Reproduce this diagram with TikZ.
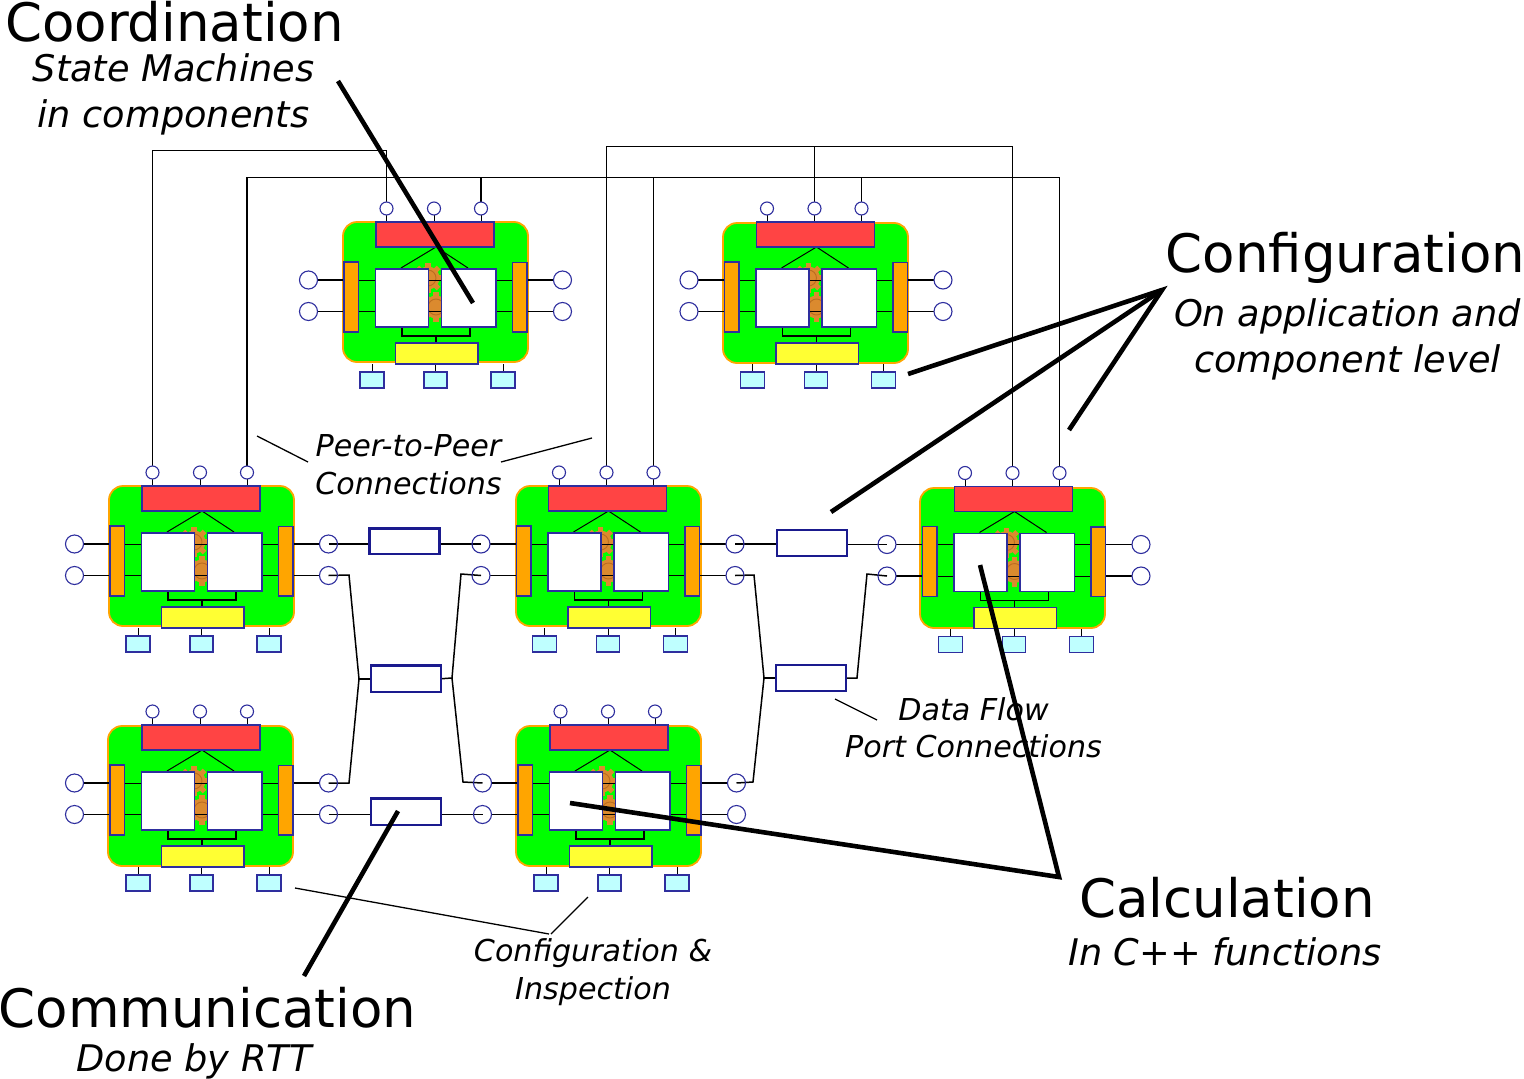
\documentclass[tikz,border=0pt]{standalone}
\usepackage{fontspec}
\setmainfont{DejaVu Sans}
\usetikzlibrary{calc}
\pgfdeclarelayer{back}\pgfdeclarelayer{mid}\pgfdeclarelayer{front}
\pgfsetlayers{back,mid,main,front}
\definecolor{navy}{HTML}{2E2E9E}
\definecolor{flown}{HTML}{1A1A8E}
\definecolor{orng}{HTML}{FFA500}
\definecolor{redb}{HTML}{FF4444}
\definecolor{yelb}{HTML}{FFFF33}
\definecolor{cyab}{HTML}{BFFFFF}
\definecolor{gearc}{HTML}{DB8A2E}
\definecolor{geard}{HTML}{BC6C20}
\tikzset{
  x=1pt,y=-1pt,
  pin/.style={draw=navy,line width=1.1pt,inner sep=0,outer sep=0,rectangle,fill=#1},
  pin/.default=white,
  portc/.style={draw=navy,line width=1.1pt,circle,inner sep=0,outer sep=0,minimum size=18pt},
  topc/.style={draw=navy,line width=1.1pt,circle,inner sep=0,outer sep=0,minimum size=13pt},
  flowbox/.style={draw=flown,line width=2.2pt,fill=white,rectangle,inner sep=0,outer sep=0},
  wire/.style={draw=black,line width=1.5pt},
  heavy/.style={draw=black,line width=4.6pt},
  thin/.style={draw=black,line width=1.3pt},
  title/.style={font=\fontsize{53}{60}\selectfont,anchor=base,inner sep=0},
  sub/.style={font=\fontsize{36.7}{44}\selectfont\itshape,anchor=base,inner sep=0},
  small/.style={font=\fontsize{30.15}{36}\selectfont\itshape,anchor=base,inner sep=0},
}
% box node from corners: name, style, x1,y1,x2,y2
\newcommand{\bx}[6]{%
  \pgfmathsetmacro{\bxw}{#5-#3}\pgfmathsetmacro{\bxh}{#6-#4}%
  \node[#2,minimum width=\bxw pt,minimum height=\bxh pt] (#1) at ({(#3+#5)/2},{(#4+#6)/2}) {};}
% gear
\newcommand{\cog}[2]{%
  \foreach \a in {0,45,...,315}{\fill[gearc,rotate around={\a:(#1,#2)}] ({#1-2.6},{#2-15}) rectangle ({#1+2.6},{#2-9});}
  \fill[gearc] (#1,#2) circle[radius=11.5];
  \draw[geard,line width=0.9pt] (#1,#2) circle[radius=8];}
% component: name, red x, red y, green x, green y
\newcommand{\comp}[5]{%
  \begin{pgfonlayer}{back}
    \fill[green,draw=orng,line width=1.8pt,rounded corners=14pt] (#4,#5) rectangle ({#4+185},{#5+140});
    \begin{scope}[shift={(#2,#3)}]\cog{52}{56}\cog{60}{85}\end{scope}
  \end{pgfonlayer}
  \begin{scope}[shift={(#2,#3)}]
    \bx{#1red}{pin=redb}{0}{0}{118}{25}
    \bx{#1yel}{pin=yelb}{19.5}{121}{102}{142}
    \bx{#1lo}{pin=orng}{-32}{40}{-17.5}{110}
    \bx{#1ro}{pin=orng}{136.5}{40.5}{151}{110}
    \bx{#1wl}{pin=white}{-0.5}{47}{52.5}{105}
    \bx{#1wr}{pin=white}{65.5}{47}{120}{105}
    \node[topc] (#1t1) at (10.5,-13.5) {};
    \node[topc] (#1t2) at (58,-13.5) {};
    \node[topc] (#1t3) at (105,-13.5) {};
    \node[portc] (#1l1) at (-67.5,58) {};
    \node[portc] (#1l2) at (-67.5,89.5) {};
    \node[portc] (#1r1) at (186.5,58) {};
    \node[portc] (#1r2) at (186.5,89.5) {};
    \bx{#1b1}{pin=cyab}{-16}{150}{8}{166}
    \bx{#1b2}{pin=cyab}{48}{150}{71}{166}
    \bx{#1b3}{pin=cyab}{115}{150}{139}{166}
    \coordinate (#1apex) at (60,25);
    \coordinate (#1apl) at (25,46);
    \coordinate (#1apr) at (92,46);
    \coordinate (#1bra) at (60,114);
    \coordinate (#1bl) at (26,114);
    \coordinate (#1br) at (94,114);
  \end{scope}
  \begin{pgfonlayer}{mid}
    \draw[wire,line width=1pt] (#1t1.south) -- (#1t1.south |- #1red.north);
    \draw[wire,line width=1pt] (#1t2.south) -- (#1t2.south |- #1red.north);
    \draw[wire,line width=1pt] (#1t3.south) -- (#1t3.south |- #1red.north);
    \draw[wire] (#1l1.east) -- (#1l1.east -| #1lo.west);
    \draw[wire] (#1l2.east) -- (#1l2.east -| #1lo.west);
    \draw[wire] (#1r1.west) -- (#1r1.west -| #1ro.east);
    \draw[wire] (#1r2.west) -- (#1r2.west -| #1ro.east);
    \draw[wire,line width=1pt] (#1l1 -| #1lo.east) -- (#1r1 -| #1ro.west);
    \draw[wire,line width=1pt] (#1l2 -| #1lo.east) -- (#1r2 -| #1ro.west);
    \draw[wire,line width=1pt] (#1apl) -- (#1apex) -- (#1apr);
    \draw[wire] (#1bl |- #1wl.south) -- (#1bl) -- (#1br) -- (#1br |- #1wr.south);
    \draw[wire] (#1bra) -- (#1bra |- #1yel.north);
    \draw[wire,line width=1pt] (#1b1.north) -- ++(0,-8);
    \draw[wire,line width=1pt] (#1b2.north) -- ++(0,-8);
    \draw[wire,line width=1pt] (#1b3.north) -- ++(0,-8);
  \end{pgfonlayer}}
\begin{document}
\begin{tikzpicture}
\useasboundingbox (0,0) rectangle (1524,1079);
\comp{ca}{376}{222}{343}{222}
\comp{cb}{756.5}{222}{723}{223}
\comp{ma}{142}{486}{109}{486}
\comp{mb}{548.5}{486}{516}{486}
\comp{mc}{954.5}{486.5}{920}{488}
\comp{ba}{142}{725}{108}{726}
\comp{bb}{550}{725}{516}{726}
% flow boxes
\bx{fa}{flowbox}{369.5}{528.5}{439.5}{554}
\bx{fb}{flowbox}{777}{530}{847}{556}
\bx{fc}{flowbox}{371}{665.5}{441}{692}
\bx{fd}{flowbox}{776}{665}{846}{691}
\bx{fe}{flowbox}{371}{798.5}{441}{825}
% bend points
\coordinate (p1) at (385,150.5);
\coordinate (p2) at (482,177.5);
\coordinate (p3) at (1059,177.5);
\coordinate (p4) at (814,146.5);
\coordinate (p5) at (861,177.5);
\coordinate (p6) at (654,177.5);
\coordinate (p8) at (1012,146.5);
\coordinate (lc) at (359,679);
\coordinate (rc) at (452,678);
\coordinate (ld) at (764,678);
\coordinate (rd) at (857,678);
\coordinate (c1) at (349,575);
\coordinate (c2) at (349,783);
\coordinate (c3) at (461,574);
\coordinate (c4) at (463,782);
\coordinate (d1) at (754,575);
\coordinate (d2) at (753,782);
\coordinate (d3) at (867,574);
\begin{pgfonlayer}{mid}
  % peer-to-peer
  \draw[wire] (mat1.north) |- (cat1.north |- p1) -- (cat1.north);
  \draw[wire] (mat3.north) |- (cat3.north |- p2) -- (cat3.north);
  \draw[wire] (cat3.north |- p2) -| (mct3.north);
  \draw[wire] (mbt2.north) |- (mct2.north |- p8) -- (mct2.north);
  \draw[wire] (cbt2.north |- p4) -- (cbt2.north);
  \draw[wire] (cbt3.north |- p5) -- (cbt3.north);
  \draw[wire] (mbt3.north |- p6) -- (mbt3.north);
  % data flow
  \draw[wire] (mar1.center) -- (mar1.center -| fa.west);
  \draw[wire] (fa.east |- mbl1.center) -- (mbl1.center);
  \draw[wire] (mbr1.center) -- (mbr1.center -| fb.west);
  \draw[wire] (fb.east |- mcl1.center) -- (mcl1.center);
  \draw[wire] (mar2.center) -- (c1) -- (lc) -- (c2) -- (bar1.center);
  \draw[wire] (lc) -- (lc -| fc.west);
  \draw[wire] (fc.east) -- (rc);
  \draw[wire] (mbl2.center) -- (c3) -- (rc) -- (c4) -- (bbl1.center);
  \draw[wire] (mbr2.center) -- (d1) -- (ld) -- (d2) -- (bbr1.center);
  \draw[wire] (ld) -- (ld -| fd.west);
  \draw[wire] (fd.east) -- (rd) -- (d3) -- (mcl2.center);
  \draw[wire] (bar2.center) -- (bar2.center -| fe.west);
  \draw[wire] (fe.east |- bbl2.center) -- (bbl2.center);
\end{pgfonlayer}
% labels
\node[title] (tcoord) at (174.5,41) {Coordination};
\node[sub] (scoord) at (173.5,81) {State Machines};
\node[sub] (scoordb) at (173.5,127) {in components};
\node[title] (tconf) at (1345.5,272) {Configuration};
\node[sub] (sconf) at (1347.5,326) {On application and};
\node[sub] (sconfb) at (1347.5,372) {component level};
\node[title] (tcomm) at (207.5,1027) {Communication};
\node[sub] (scomm) at (194,1071) {Done by RTT};
\node[title] (tcalc) at (1227,917) {Calculation};
\node[sub] (scalc) at (1225,965) {In C++ functions};
\node[small] (lp) at (408.5,456) {Peer-to-Peer};
\node[small] (lpb) at (408.5,494) {Connections};
\node[small] (ld1) at (973.5,720) {Data Flow};
\node[small] (ld2) at (973.5,757) {Port Connections};
\node[small] (li1) at (593,961) {Configuration \&};
\node[small] (li2) at (593,999) {Inspection};
% pointer ends
\coordinate (h1) at (338,81); \coordinate (h2) at (473,303);
\coordinate (ha) at (1162,290); \coordinate (h3) at (908,374); \coordinate (h4) at (831,512); \coordinate (h5) at (1069,430);
\coordinate (hb) at (1059,877); \coordinate (h6) at (980,565); \coordinate (h7) at (570,803);
\coordinate (h8) at (304,976); \coordinate (h9) at (398,811);
\coordinate (t1) at (257,436); \coordinate (t2) at (308,462);
\coordinate (t3) at (501,462); \coordinate (t4) at (592,438);
\coordinate (t5) at (835,699); \coordinate (t6) at (877,720);
\coordinate (t7) at (295,888); \coordinate (t8) at (549,934);
\coordinate (t9) at (551,934); \coordinate (t10) at (588,897);
\begin{pgfonlayer}{front}
  \draw[heavy] (h1) -- (h2);
  \draw[heavy,line join=miter] (h3) -- (ha) -- (h5);
  \draw[heavy] (ha) -- (h4);
  \draw[heavy,line join=miter] (h6) -- (hb) -- (h7);
  \draw[heavy] (h8) -- (h9);
  \draw[thin] (t1) -- (t2);
  \draw[thin] (t3) -- (t4);
  \draw[thin] (t5) -- (t6);
  \draw[thin] (t7) -- (t8);
  \draw[thin] (t9) -- (t10);
\end{pgfonlayer}
\end{tikzpicture}
\end{document}
